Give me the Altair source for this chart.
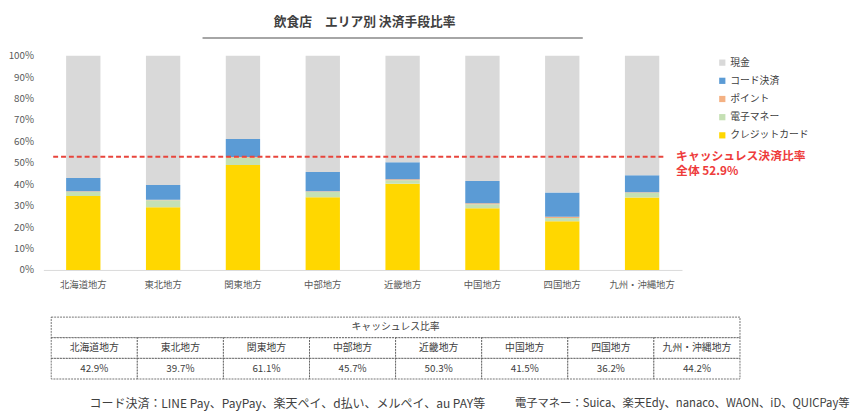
import altair as alt
import pandas as pd

FONT = "Noto Sans CJK JP"

regions = ["北海道地方", "東北地方", "関東地方", "中部地方", "近畿地方", "中国地方", "四国地方", "九州・沖縄地方"]
credit = [34.5, 29.3, 49.0, 34.0, 40.3, 28.8, 22.7, 33.8]
emoney = [2.0, 3.3, 3.4, 2.5, 1.6, 1.9, 1.5, 2.2]
point = [0.3, 0.2, 0.3, 0.3, 0.5, 0.4, 0.6, 0.3]
code = [6.1, 6.9, 8.4, 8.9, 7.9, 10.4, 11.4, 7.9]
cash = [57.1, 60.3, 38.9, 54.3, 49.7, 58.5, 63.8, 55.8]
cashless_labels = ["42.9%", "39.7%", "61.1%", "45.7%", "50.3%", "41.5%", "36.2%", "44.2%"]
overall = 52.9
y_ticks = [0, 10, 20, 30, 40, 50, 60, 70, 80, 90, 100]

series_stack = ["クレジットカード", "電子マネー", "ポイント", "コード決済", "現金"]
legend_order = ["現金", "コード決済", "ポイント", "電子マネー", "クレジットカード"]
legend_colors = ["#d9d9d9", "#5b9bd5", "#f4b183", "#c5e0b4", "#ffd700"]

title_text = "飲食店　エリア別 決済手段比率"
ref_line1 = "キャッシュレス決済比率"
ref_line2 = "全体 52.9%"
table_title = "キャッシュレス比率"
note1 = "コード決済：LINE Pay、PayPay、楽天ペイ、d払い、メルペイ、au PAY等"
note2 = "電子マネー：Suica、楽天Edy、nanaco、WAON、iD、QUICPay等"

values_by_series = [credit, emoney, point, code, cash]
rows = []
for si, (name, vals) in enumerate(zip(series_stack, values_by_series)):
    for r, v in zip(regions, vals):
        rows.append({"region": r, "series": name, "value": v, "stack_idx": si})
df = pd.DataFrame(rows)

yscale = alt.Scale(domain=[0, 100], nice=False)
yaxis = alt.Axis(title=None, values=y_ticks, labelExpr="datum.value + '%'", tickCount=11,
                 grid=False, domain=False, ticks=False, labelPadding=10, labelOverlap=False,
                 labelFontSize=10, labelColor="#595959")

bars = alt.Chart(df).mark_bar().encode(
    x=alt.X("region:N", sort=regions,
            scale=alt.Scale(paddingInner=0.57, paddingOuter=0.285),
            axis=alt.Axis(title=None, labelAngle=0, ticks=False, domainColor="#d9d9d9",
                          labelFontSize=9.5, labelColor="#595959", labelPadding=10)),
    y=alt.Y("value:Q", stack="zero", scale=yscale, axis=yaxis),
    color=alt.Color("series:N", scale=alt.Scale(domain=legend_order, range=legend_colors),
                    legend=alt.Legend(title=None, orient="none", legendX=686, legendY=2,
                                      symbolType="square", symbolSize=40, symbolStrokeWidth=0,
                                      labelFontSize=10, labelColor="#404040", rowPadding=8.5,
                                      padding=0, labelOffset=3)),
    order=alt.Order("stack_idx:Q", sort="ascending"),
)

ref_df = pd.DataFrame({"v": [overall]})
rule = alt.Chart(ref_df).mark_rule(color="#e8453c", strokeDash=[5, 3], strokeWidth=2).encode(
    y=alt.Y("v:Q", scale=yscale, axis=yaxis), x=alt.value(10), x2=alt.value(634))
ref_text1 = alt.Chart(ref_df).mark_text(align="left", baseline="middle", fontSize=12, fontWeight="bold",
                                         color="#ee3b3b", dy=-1).encode(
    y=alt.Y("v:Q", scale=yscale, axis=yaxis), x=alt.value(644), text=alt.value(ref_line1))
ref_text2 = alt.Chart(ref_df).mark_text(align="left", baseline="middle", fontSize=12, fontWeight="bold",
                                         color="#ee3b3b", dy=15).encode(
    y=alt.Y("v:Q", scale=yscale, axis=yaxis), x=alt.value(644), text=alt.value(ref_line2))

title = alt.Chart(ref_df).mark_text(fontSize=13, fontWeight="bold", color="#404040",
                                     align="center", baseline="middle").encode(
    x=alt.value(327), y=alt.value(-34), text=alt.value(title_text))
underline = alt.Chart(ref_df).mark_rule(color="#a6a6a6", strokeWidth=2).encode(
    x=alt.value(162), x2=alt.value(549), y=alt.value(-18))

top = alt.layer(bars, rule, ref_text1, ref_text2, title, underline).properties(width=650, height=218)

# table
n = len(regions)
hdr = pd.DataFrame({"x0": [0], "x1": [n], "y0": [0], "y1": [1], "xm": [n / 2], "ym": [0.5], "t": [table_title]})
cells = []
for i, (r, lab) in enumerate(zip(regions, cashless_labels)):
    cells.append({"x0": i, "x1": i + 1, "y0": 1, "y1": 2, "xm": i + 0.5, "ym": 1.5, "t": r})
    cells.append({"x0": i, "x1": i + 1, "y0": 2, "y1": 3, "xm": i + 0.5, "ym": 2.5, "t": lab})
cells = pd.DataFrame(cells)
tbl = pd.concat([hdr, cells], ignore_index=True)

xs = alt.Scale(domain=[0, n], range=[8, 709])
ys = alt.Scale(domain=[0, 3], range=[0, 63])
rects = alt.Chart(tbl).mark_rect(fill="white", stroke="#505050", strokeDash=[2, 1], strokeWidth=0.8).encode(
    x=alt.X("x0:Q", scale=xs, axis=None), x2="x1:Q",
    y=alt.Y("y0:Q", scale=ys, axis=None), y2="y1:Q")
texts = alt.Chart(tbl).mark_text(fontSize=10, color="#404040").encode(
    x=alt.X("xm:Q", scale=xs, axis=None), y=alt.Y("ym:Q", scale=ys, axis=None), text="t:N")
n1 = alt.Chart(ref_df).mark_text(fontSize=12.2, color="#404040", align="left", baseline="middle").encode(
    x=alt.value(47), y=alt.value(88), text=alt.value(note1))
n2 = alt.Chart(ref_df).mark_text(fontSize=11.5, color="#404040", align="left", baseline="middle").encode(
    x=alt.value(480), y=alt.value(88), text=alt.value(note2))
table = alt.layer(rects, texts, n1, n2).properties(width=709, height=63)

chart = alt.vconcat(top, table, spacing=27).properties(
    padding={"left": 0, "top": 5, "right": 0, "bottom": 0}
).configure(font=FONT).configure_view(stroke=None)

chart.save("out.html", embed_options={"renderer": "svg", "actions": False})
